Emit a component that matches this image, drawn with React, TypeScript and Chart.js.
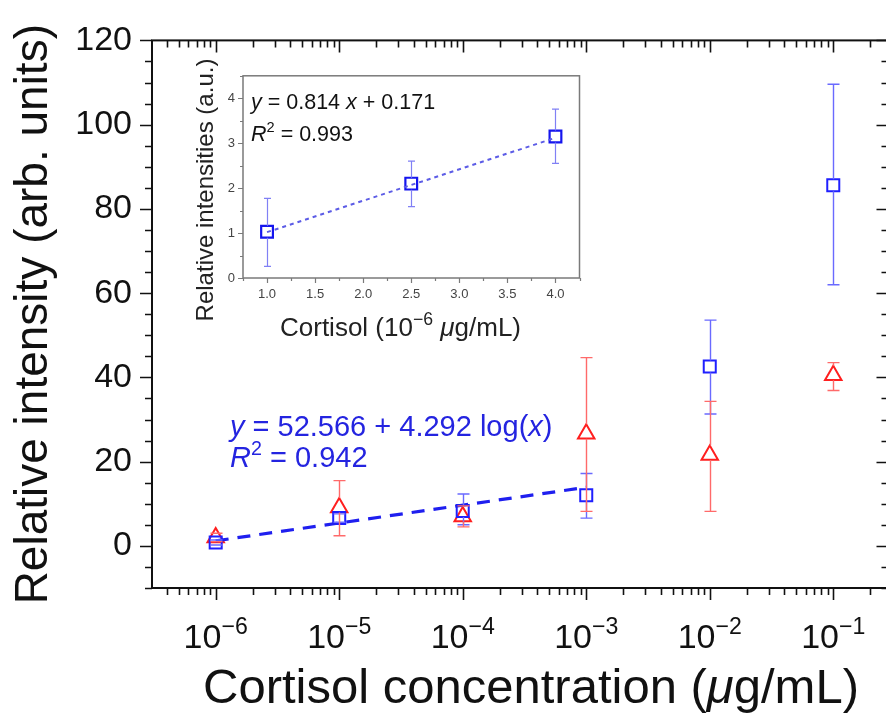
import React, { useEffect, useRef } from 'react';
import { Chart, registerables } from 'chart.js';

Chart.register(...registerables);

const FONT = "'Liberation Sans', Arial, Helvetica, sans-serif";

// ---------- main chart data ----------
const concentrations = [1e-6, 1e-5, 1e-4, 1e-3, 1e-2, 1e-1];
const squareMean = [0.8, 6.6, 8.3, 12.0, 42.6, 85.6];
const squareLow = [0.2, 5.6, 5.0, 6.6, 31.3, 62.0];
const squareHigh = [1.4, 7.6, 12.3, 17.2, 53.6, 109.6];
const triangleMean = [2.0, 9.1, 7.0, 26.6, 21.6, 40.5];
const triangleLow = [1.0, 2.4, 4.5, 8.2, 8.2, 36.9];
const triangleHigh = [3.0, 15.5, 9.5, 44.7, 34.3, 43.5];
const fitX = [1e-6, 1e-3];
const fitY = [1.2, 13.9];
const yTickValues = [0, 20, 40, 60, 80, 100, 120];
const xTickExponents = [-6, -5, -4, -3, -2, -1];

// ---------- inset data ----------
const insetX = [1.0, 2.5, 4.0];
const insetY = [1.03, 2.1, 3.15];
const insetLow = [0.26, 1.59, 2.55];
const insetHigh = [1.77, 2.6, 3.76];
const insetFitX = [1.0, 4.0];
const insetFitY = [1.02, 3.12];
const insetXTicks = [1.0, 1.5, 2.0, 2.5, 3.0, 3.5, 4.0];
const insetYTicks = [0, 1, 2, 3, 4];

type Run = { t: string; it?: boolean; sup?: boolean };

function runFont(r: Run, size: number) {
  const s = r.sup ? size * 0.68 : size;
  return `${r.it ? 'italic ' : ''}${s}px ${FONT}`;
}
function measureRuns(ctx: CanvasRenderingContext2D, runs: Run[], size: number) {
  let w = 0;
  for (const r of runs) {
    ctx.font = runFont(r, size);
    w += ctx.measureText(r.t).width;
  }
  return w;
}
function drawRuns(
  ctx: CanvasRenderingContext2D,
  runs: Run[],
  x: number,
  y: number,
  size: number,
  color: string,
  align: 'left' | 'center' = 'left'
) {
  const w = measureRuns(ctx, runs, size);
  let cx = align === 'center' ? x - w / 2 : x;
  ctx.save();
  ctx.fillStyle = color;
  ctx.textAlign = 'left';
  ctx.textBaseline = 'alphabetic';
  for (const r of runs) {
    ctx.font = runFont(r, size);
    ctx.fillText(r.t, cx, r.sup ? y - size * 0.42 : y);
    cx += ctx.measureText(r.t).width;
  }
  ctx.restore();
}

const errorBarPlugin = {
  id: 'errbars',
  afterDatasetsDraw(chart: any, _args: any, opts: any) {
    const ctx: CanvasRenderingContext2D = chart.ctx;
    const xs = chart.scales.x;
    const ys = chart.scales.y;
    (opts.sets || []).forEach((set: any) => {
      const ds = chart.data.datasets[set.datasetIndex];
      ctx.save();
      ctx.strokeStyle = set.color;
      ctx.lineWidth = set.width;
      ds.data.forEach((p: any, j: number) => {
        const px = Math.round(xs.getPixelForValue(p.x)) + 0.5;
        const py = ys.getPixelForValue(p.y);
        const hi = ys.getPixelForValue(set.high[j]);
        const lo = ys.getPixelForValue(set.low[j]);
        ctx.beginPath();
        if (hi < py - set.gapTop) {
          ctx.moveTo(px, hi);
          ctx.lineTo(px, py - set.gapTop);
        }
        if (lo > py + set.gapBottom) {
          ctx.moveTo(px, py + set.gapBottom);
          ctx.lineTo(px, lo);
        }
        ctx.moveTo(px - set.cap, hi);
        ctx.lineTo(px + set.cap, hi);
        ctx.moveTo(px - set.cap, lo);
        ctx.lineTo(px + set.cap, lo);
        ctx.stroke();
      });
      ctx.restore();
    });
  },
};

const mainDecorPlugin = {
  id: 'mainDecor',
  afterDraw(chart: any) {
    const ctx: CanvasRenderingContext2D = chart.ctx;
    const { left, right, top, bottom } = chart.chartArea;
    const xs = chart.scales.x;
    const ys = chart.scales.y;
    ctx.save();
    ctx.strokeStyle = '#111';
    ctx.lineWidth = 2;
    ctx.strokeRect(left, top, right - left, bottom - top);

    ctx.lineWidth = 1.6;
    ctx.beginPath();
    for (let d = -7; d <= 0; d++) {
      for (let m = 1; m <= 9; m++) {
        const v = m * Math.pow(10, d);
        if (v < xs.min || v > xs.max) continue;
        const px = Math.round(xs.getPixelForValue(v)) + 0.5;
        const len = m === 1 ? 12 : 7;
        ctx.moveTo(px, bottom);
        ctx.lineTo(px, bottom + len);
        ctx.moveTo(px, top);
        ctx.lineTo(px, top + len);
      }
    }
    for (let v = -10; v <= 120; v += 5) {
      const py = Math.round(ys.getPixelForValue(v)) + 0.5;
      const len = v % 20 === 0 ? 12 : 7;
      ctx.moveTo(left, py);
      ctx.lineTo(left - len, py);
      ctx.moveTo(right, py);
      ctx.lineTo(right - len, py);
    }
    ctx.stroke();
    ctx.restore();

    xTickExponents.forEach((e) => {
      const px = xs.getPixelForValue(Math.pow(10, e));
      drawRuns(ctx, [{ t: '10' }, { t: '\u2212' + Math.abs(e), sup: true }], px, 648, 34, '#111', 'center');
    });

    drawRuns(
      ctx,
      [{ t: 'Cortisol concentration (' }, { t: '\u03bc', it: true }, { t: 'g/mL)' }],
      531,
      703,
      49,
      '#111',
      'center'
    );

    const blue = '#2424e0';
    drawRuns(
      ctx,
      [{ t: 'y', it: true }, { t: ' = 52.566 + 4.292 log(' }, { t: 'x', it: true }, { t: ')' }],
      230,
      436,
      29,
      blue
    );
    drawRuns(ctx, [{ t: 'R', it: true }, { t: '2', sup: true }, { t: ' = 0.942' }], 230, 467, 29, blue);
  },
};

const insetDecorPlugin = {
  id: 'insetDecor',
  afterDraw(chart: any) {
    const ctx: CanvasRenderingContext2D = chart.ctx;
    const { left, right, top, bottom } = chart.chartArea;
    const xs = chart.scales.x;
    const ys = chart.scales.y;
    ctx.save();
    ctx.strokeStyle = '#7a7a7a';
    ctx.lineWidth = 1.5;
    ctx.strokeRect(left, top, right - left, bottom - top);
    ctx.lineWidth = 1.2;
    ctx.beginPath();
    for (let v = 0.75; v <= 4.25 + 1e-9; v += 0.25) {
      const px = Math.round(xs.getPixelForValue(v)) + 0.5;
      const major = Math.abs(v * 2 - Math.round(v * 2)) < 1e-6;
      ctx.moveTo(px, bottom);
      ctx.lineTo(px, bottom + (major ? 5 : 3));
    }
    for (let v = 0; v <= 4.5 + 1e-9; v += 0.5) {
      const py = Math.round(ys.getPixelForValue(v)) + 0.5;
      const major = Math.abs(v - Math.round(v)) < 1e-6;
      ctx.moveTo(left, py);
      ctx.lineTo(left - (major ? 5 : 3), py);
    }
    ctx.stroke();
    ctx.restore();

    // y title (rotated)
    ctx.save();
    ctx.translate(26, 130);
    ctx.rotate(-Math.PI / 2);
    ctx.font = `24px ${FONT}`;
    ctx.fillStyle = '#222';
    ctx.textAlign = 'center';
    ctx.textBaseline = 'middle';
    ctx.fillText('Relative intensities (a.u.)', 0, 0);
    ctx.restore();

    drawRuns(
      ctx,
      [{ t: 'Cortisol (10' }, { t: '\u22126', sup: true }, { t: ' ' }, { t: '\u03bc', it: true }, { t: 'g/mL)' }],
      100,
      276,
      26,
      '#222'
    );
    drawRuns(
      ctx,
      [{ t: 'y', it: true }, { t: ' = 0.814 ' }, { t: 'x', it: true }, { t: ' + 0.171' }],
      left + 8,
      top + 33,
      21.5,
      '#111'
    );
    drawRuns(ctx, [{ t: 'R', it: true }, { t: '2', sup: true }, { t: ' = 0.993' }], left + 8, top + 65, 21.5, '#111');
  },
};

export default function App() {
  const mainRef = useRef<HTMLCanvasElement>(null);
  const insetRef = useRef<HTMLCanvasElement>(null);

  useEffect(() => {
    const blue = '#1f1fff';
    const red = '#ff1f1f';
    const main = new Chart(mainRef.current as HTMLCanvasElement, {
      type: 'scatter',
      data: {
        datasets: [
          {
            label: 'fit',
            data: fitX.map((x, i) => ({ x, y: fitY[i] })),
            showLine: true,
            borderColor: '#1f1fef',
            borderWidth: 3.2,
            borderDash: [13, 9],
            pointRadius: 0,
            fill: false,
          } as any,
          {
            label: 'squares',
            data: concentrations.map((x, i) => ({ x, y: squareMean[i] })),
            pointStyle: 'rect',
            pointRadius: 8.5,
            borderWidth: 2,
            borderColor: blue,
            backgroundColor: 'transparent',
          },
          {
            label: 'triangles',
            data: concentrations.map((x, i) => ({ x, y: triangleMean[i] })),
            pointStyle: 'triangle',
            pointRadius: 9.5,
            borderWidth: 2,
            borderColor: red,
            backgroundColor: 'transparent',
          },
        ],
      },
      options: {
        responsive: false,
        animation: false,
        devicePixelRatio: 1,
        layout: { padding: { top: 34, right: 11, left: 0, bottom: 0 } },
        plugins: {
          legend: { display: false },
          tooltip: { enabled: false },
          errbars: {
            sets: [
              { datasetIndex: 1, low: squareLow, high: squareHigh, color: '#6a6aff', width: 1.4, cap: 6, gapTop: 6, gapBottom: 6 },
              { datasetIndex: 2, low: triangleLow, high: triangleHigh, color: '#ff6a6a', width: 1.4, cap: 6, gapTop: 9.5, gapBottom: 5 },
            ],
          },
        } as any,
        scales: {
          x: {
            type: 'logarithmic',
            min: 3.05e-7,
            max: 0.28,
            ticks: { display: false },
            grid: { display: false, drawTicks: false },
            border: { display: false },
            afterFit(s: any) {
              s.height = 128;
            },
          },
          y: {
            min: -10,
            max: 120,
            afterBuildTicks(s: any) {
              s.ticks = yTickValues.map((v) => ({ value: v }));
            },
            ticks: { font: { size: 34, family: FONT }, color: '#111', padding: 20 },
            grid: { display: false, drawTicks: false },
            border: { display: false },
            title: {
              display: true,
              text: 'Relative intensity (arb. units)',
              font: { size: 46, family: FONT },
              color: '#111',
              padding: { top: 7, bottom: 0 },
            },
            afterFit(s: any) {
              s.width = 152;
            },
          },
        },
      },
      plugins: [errorBarPlugin, mainDecorPlugin],
    });

    const inset = new Chart(insetRef.current as HTMLCanvasElement, {
      type: 'scatter',
      data: {
        datasets: [
          {
            label: 'fit',
            data: insetFitX.map((x, i) => ({ x, y: insetFitY[i] })),
            showLine: true,
            borderColor: '#5c5ce6',
            borderWidth: 2,
            borderDash: [4, 4],
            pointRadius: 0,
            fill: false,
          } as any,
          {
            label: 'inset',
            data: insetX.map((x, i) => ({ x, y: insetY[i] })),
            pointStyle: 'rect',
            pointRadius: 8.3,
            borderWidth: 2.2,
            borderColor: '#1515ee',
            backgroundColor: 'transparent',
          },
        ],
      },
      options: {
        responsive: false,
        animation: false,
        devicePixelRatio: 1,
        layout: { padding: { top: 10, right: 10, left: 0, bottom: 0 } },
        plugins: {
          legend: { display: false },
          tooltip: { enabled: false },
          errbars: {
            sets: [
              { datasetIndex: 1, low: insetLow, high: insetHigh, color: '#8080f5', width: 1.2, cap: 3.5, gapTop: 6, gapBottom: 6 },
            ],
          },
        } as any,
        scales: {
          x: {
            type: 'linear',
            min: 0.75,
            max: 4.25,
            afterBuildTicks(s: any) {
              s.ticks = insetXTicks.map((v) => ({ value: v }));
            },
            ticks: {
              font: { size: 13, family: FONT },
              color: '#444',
              padding: 9,
              maxRotation: 0,
              autoSkip: false,
              callback: (v: any) => Number(v).toFixed(1),
            },
            grid: { display: false, drawTicks: false },
            border: { display: false },
            afterFit(s: any) {
              s.height = 72;
            },
          },
          y: {
            min: 0,
            max: 4.5,
            afterBuildTicks(s: any) {
              s.ticks = insetYTicks.map((v) => ({ value: v }));
            },
            ticks: { font: { size: 13, family: FONT }, color: '#444', padding: 8 },
            grid: { display: false, drawTicks: false },
            border: { display: false },
            afterFit(s: any) {
              s.width = 63;
            },
          },
        },
      },
      plugins: [errorBarPlugin, insetDecorPlugin],
    });

    return () => {
      main.destroy();
      inset.destroy();
    };
  }, []);

  return (
    <div style={{ position: 'fixed', left: 0, top: 0, width: 886, height: 716, overflow: 'hidden', background: '#fff' }}>
      <canvas ref={mainRef} width={900} height={716} style={{ position: 'absolute', left: 0, top: 0, width: 900, height: 716 }} />
      <canvas ref={insetRef} width={410} height={290} style={{ position: 'absolute', left: 180, top: 60, width: 410, height: 290 }} />
    </div>
  );
}
